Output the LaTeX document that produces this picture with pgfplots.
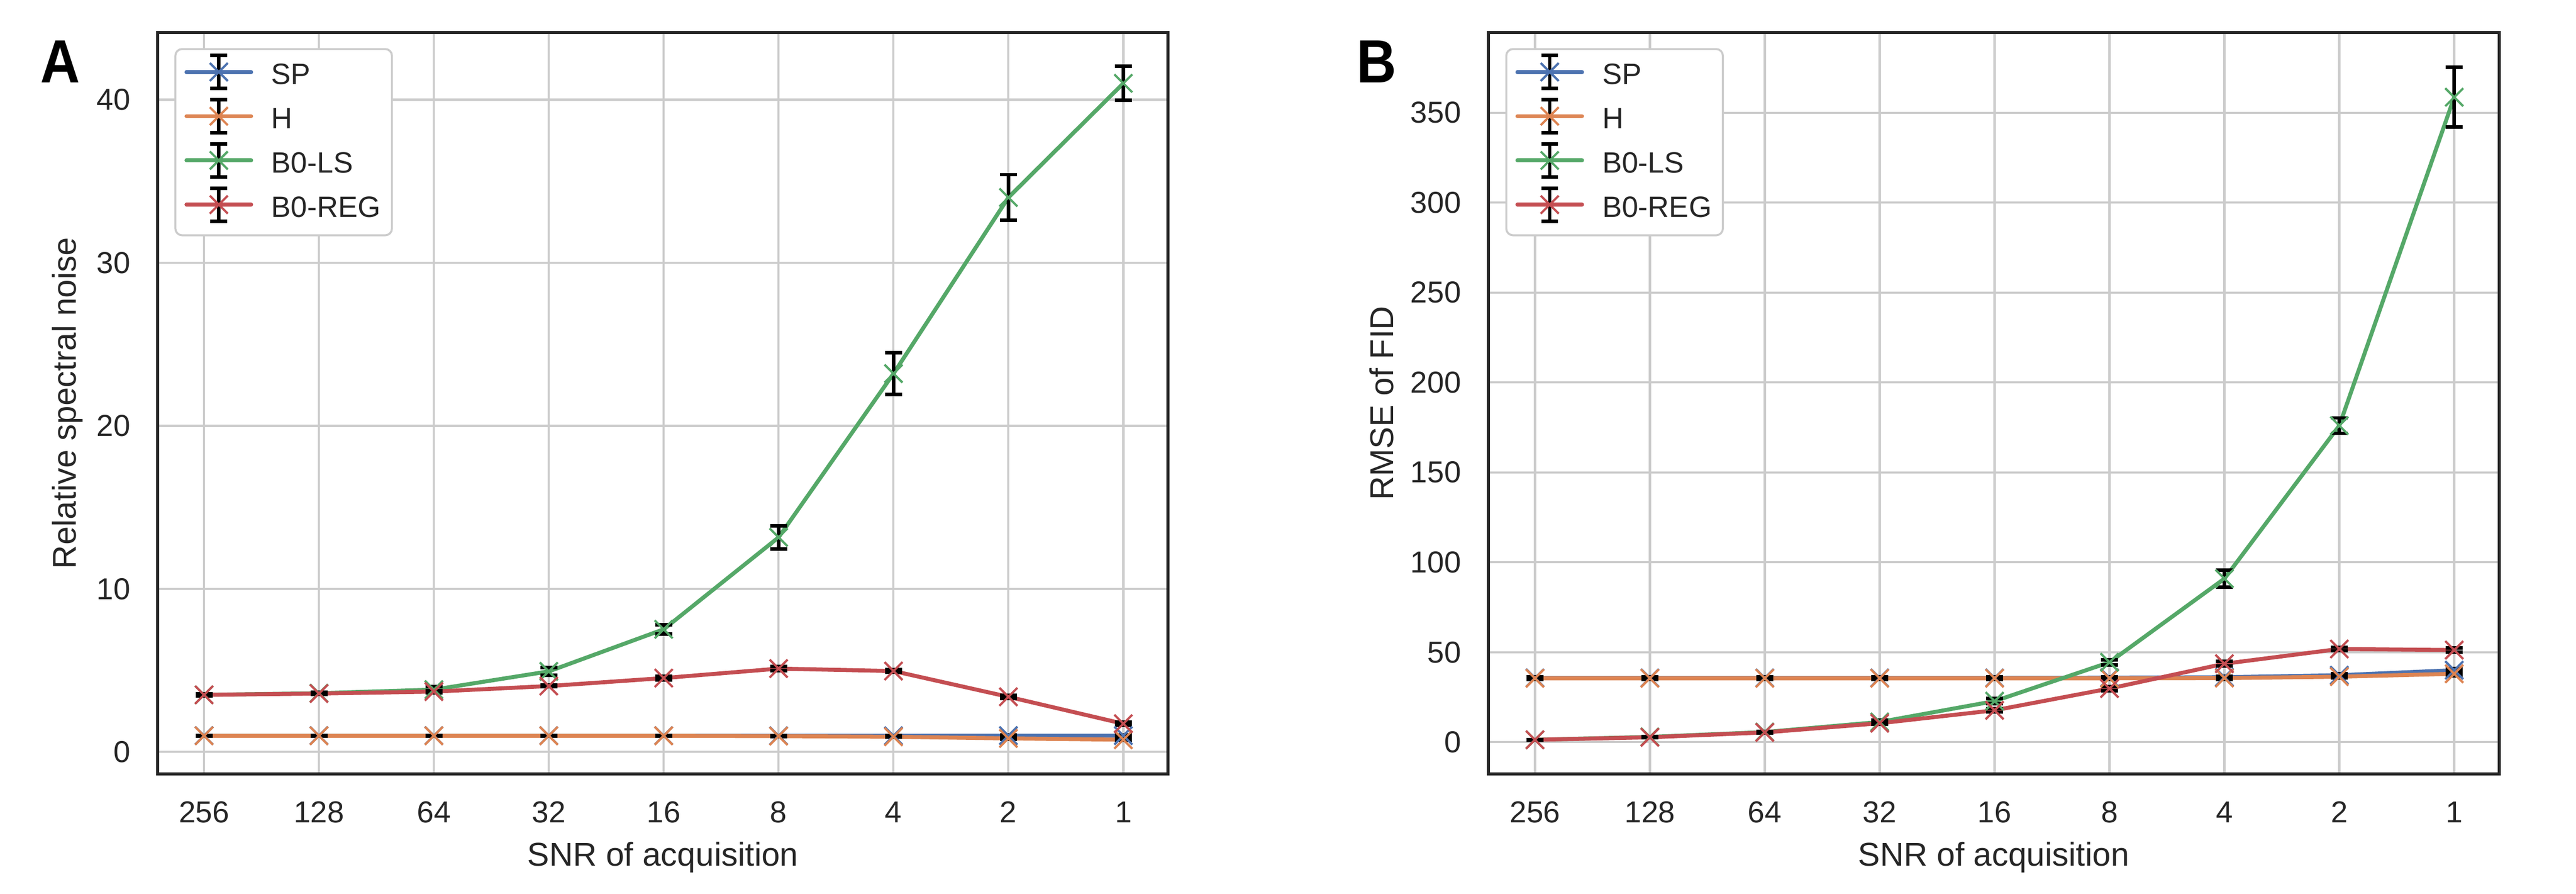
\documentclass[border=0pt]{standalone}
\usepackage{pgfplots}
\pgfplotsset{compat=1.18}
\usepackage{fontspec}
\setmainfont{Liberation Sans}
\definecolor{sbblue}{HTML}{4C72B0}
\definecolor{sborange}{HTML}{DD8452}
\definecolor{sbgreen}{HTML}{55A868}
\definecolor{sbred}{HTML}{C44E52}
\definecolor{txt}{HTML}{262626}
\definecolor{gridc}{HTML}{CCCCCC}
\pgfplotsset{
 eb/.style={error bars/.cd, y dir=both, y explicit,
   error bar style={black, line width=1.6pt, solid},
   error mark options={black, line width=1.6pt, mark size=3.8pt, rotate=90}},
 myaxis/.style={
  scale only axis, width=453.78pt, height=332.82pt,
  anchor=south west,
  xmin=-0.405, xmax=8.39,
  xtick={0,...,8}, xticklabels={256,128,64,32,16,8,4,2,1},
  grid=major, grid style={gridc, line width=1pt},
  major tick length=0pt,
  axis line style={txt, line width=1.45pt},
  tick label style={font=\fontsize{13.6}{16}\selectfont, text=txt},
  /pgf/number format/assume math mode=true,
  xticklabel style={anchor=base, inner sep=0pt, yshift=-21.96pt},
  yticklabel style={anchor=east, inner sep=0pt, xshift=-12.06pt},
  label style={font=\fontsize{14.8}{17}\selectfont, text=txt},
  xlabel={SNR of acquisition},
  xlabel style={at={(axis description cs:0.5,-0.1244)}, anchor=base},
  legend cell align=left,
  legend style={at={(axis description cs:0,1)}, anchor=north west,
    xshift=7.56pt, yshift=-7.0pt, draw=gridc, line width=0.9pt,
    rounded corners=3pt, fill=white, inner xsep=5pt, inner ysep=2.4pt,
    row sep=0.6pt, column sep=9.1pt,
    font=\fontsize{13.2}{16}\selectfont, text=txt,
    nodes={inner sep=0pt, text height=13.1pt, text depth=5.8pt}},
  legend image code/.code={
    \path[draw=none, fill=none] (0pt,0pt) rectangle (29pt,9.8pt);
    \draw[overlay, #1, mark=none, line cap=round, sharp corners] (0pt,1.9pt) -- (29pt,1.9pt);
    \draw[overlay, black, line width=1.6pt, sharp corners] (14.5pt,-5.5pt) -- (14.5pt,9.3pt);
    \draw[overlay, black, line width=1.6pt, sharp corners] (10.7pt,-5.5pt) -- (18.3pt,-5.5pt);
    \draw[overlay, black, line width=1.6pt, sharp corners] (10.7pt,9.3pt) -- (18.3pt,9.3pt);
    \draw[overlay, #1, sharp corners] plot coordinates {(14.5pt,1.9pt)};
  },
  every axis plot/.append style={line width=1.8pt, mark=x, mark size=5.7pt,
    mark options={line width=1pt, solid}},
 }
}
\begin{document}
\begin{tikzpicture}
\useasboundingbox (0,0) rectangle (1156.68pt,401.22pt);
\node[anchor=base west, inner sep=0pt, font=\fontsize{27.4}{30}\selectfont\bfseries] at (18pt,364.1pt) {\scalebox{0.9}[1]{A}};
\node[anchor=base west, inner sep=0pt, font=\fontsize{27.4}{30}\selectfont\bfseries] at (609.1pt,364.1pt) {\scalebox{0.9}[1]{B}};
\begin{axis}[myaxis, at={(70.74pt,53.82pt)},
  ymin=-1.34, ymax=44.12, ytick={0,10,20,30,40},
  ylabel={Relative spectral noise},
  ylabel style={at={(axis description cs:-0.0893,0.5)}, anchor=center}]
\addplot[sbblue, eb] coordinates {
 (0,1.00) +- (0,0.02) (1,1.00) +- (0,0.02) (2,1.00) +- (0,0.02) (3,1.00) +- (0,0.02)
 (4,1.00) +- (0,0.02) (5,0.99) +- (0,0.02) (6,0.99) +- (0,0.03) (7,1.00) +- (0,0.05) (8,1.00) +- (0,0.05)};
\addlegendentry{SP}
\addplot[sborange, eb] coordinates {
 (0,0.99) +- (0,0.02) (1,0.99) +- (0,0.02) (2,0.99) +- (0,0.02) (3,0.99) +- (0,0.02)
 (4,0.99) +- (0,0.02) (5,0.97) +- (0,0.02) (6,0.93) +- (0,0.03) (7,0.83) +- (0,0.05) (8,0.75) +- (0,0.04)};
\addlegendentry{H}
\addplot[sbgreen, eb] coordinates {
 (0,3.50) +- (0,0.05) (1,3.60) +- (0,0.06) (2,3.82) +- (0,0.20) (3,4.94) +- (0,0.25)
 (4,7.52) +- (0,0.29) (5,13.16) +- (0,0.71) (6,23.2) +- (0,1.29) (7,34.0) +- (0,1.40) (8,41.0) +- (0,1.04)};
\addlegendentry{B0-LS}
\addplot[sbred, eb] coordinates {
 (0,3.50) +- (0,0.04) (1,3.58) +- (0,0.05) (2,3.70) +- (0,0.05) (3,4.04) +- (0,0.05)
 (4,4.53) +- (0,0.10) (5,5.11) +- (0,0.13) (6,4.96) +- (0,0.08) (7,3.38) +- (0,0.10) (8,1.73) +- (0,0.10)};
\addlegendentry{B0-REG}
\end{axis}
\begin{axis}[myaxis, at={(668.34pt,53.82pt)},
  ymin=-17.6, ymax=394.6, ytick={0,50,...,350},
  ylabel={RMSE of FID},
  ylabel style={at={(axis description cs:-0.1059,0.5)}, anchor=center}]
\addplot[sbblue, eb] coordinates {
 (0,35.7) +- (0,0.5) (1,35.7) +- (0,0.5) (2,35.7) +- (0,0.5) (3,35.7) +- (0,0.5)
 (4,35.7) +- (0,0.5) (5,35.8) +- (0,0.5) (6,36.1) +- (0,0.6) (7,37.2) +- (0,0.8) (8,40.0) +- (0,1.0)};
\addlegendentry{SP}
\addplot[sborange, eb] coordinates {
 (0,35.5) +- (0,0.5) (1,35.5) +- (0,0.5) (2,35.5) +- (0,0.5) (3,35.5) +- (0,0.5)
 (4,35.5) +- (0,0.5) (5,35.5) +- (0,0.5) (6,35.6) +- (0,0.6) (7,36.4) +- (0,0.8) (8,38.0) +- (0,1.0)};
\addlegendentry{H}
\addplot[sbgreen, eb] coordinates {
 (0,1.3) +- (0,0.2) (1,2.9) +- (0,0.3) (2,5.6) +- (0,0.5) (3,11.2) +- (0,1.0)
 (4,22.8) +- (0,1.5) (5,44.4) +- (0,1.5) (6,90.9) +- (0,4.8) (7,176.0) +- (0,4.3) (8,358.6) +- (0,16.6)};
\addlegendentry{B0-LS}
\addplot[sbred, eb] coordinates {
 (0,1.3) +- (0,0.2) (1,2.7) +- (0,0.3) (2,5.4) +- (0,0.4) (3,10.5) +- (0,0.6)
 (4,17.7) +- (0,1.0) (5,29.8) +- (0,1.2) (6,43.6) +- (0,1.2) (7,51.8) +- (0,1.0) (8,51.2) +- (0,1.2)};
\addlegendentry{B0-REG}
\end{axis}
\end{tikzpicture}
\end{document}
